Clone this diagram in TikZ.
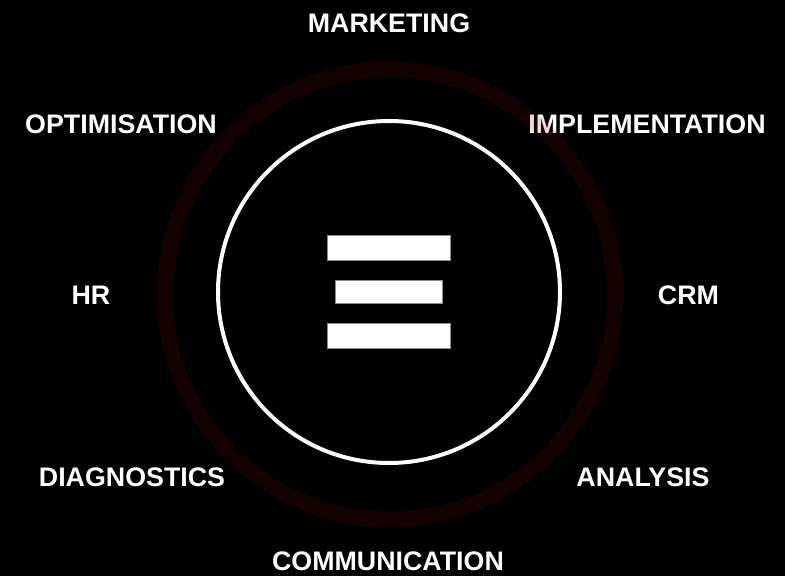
\documentclass[tikz,border=0pt]{standalone}
\usepackage{fontspec}
\setmainfont{Liberation Sans}
\definecolor{ringred}{RGB}{140,20,0}
\tikzset{
  topic/.style={text=white, font=\bfseries\fontsize{26.8}{30}\selectfont, inner sep=0pt, anchor=base},
  bar/.style={fill=white, draw=black!45, line width=0.6pt}
}
\begin{document}
\begin{tikzpicture}[x=1pt,y=-1pt]
				\fill[black] (0, 0) rectangle (785, 576);
				\useasboundingbox (0, 0) rectangle (785, 576);
				
				% labels round the wheel
				\node[topic] (marketing) at (389, 32.5) {MARKETING};
				\node[topic] (optimisation) at (121, 133.5) {OPTIMISATION};
				\node[topic] (implementation) at (647, 133.5) {IMPLEMENTATION};
				\node[topic] (hr) at (91, 304) {HR};
				\node[topic] (crm) at (688.5, 304) {CRM};
				\node[topic] (diagnostics) at (132, 486.5) {DIAGNOSTICS};
				\node[topic] (analysis) at (643, 486.5) {ANALYSIS};
				\node[topic] (communication) at (388, 570.5) {COMMUNICATION};
				
				% faint outer ring
				\draw[ringred, opacity=0.15, line width=16pt] (390, 294.5) circle (225);
				
				% inner circle
				\draw[white, line width=4pt] (389, 292) circle (171);
				
				% menu bars
				\draw[bar] (327.3, 235.3) rectangle (450.7, 260);
				\draw[bar] (335, 280.3) rectangle (442.7, 303.3);
				\draw[bar] (327.3, 323.7) rectangle (450.7, 348.3);
\end{tikzpicture}
\end{document}
